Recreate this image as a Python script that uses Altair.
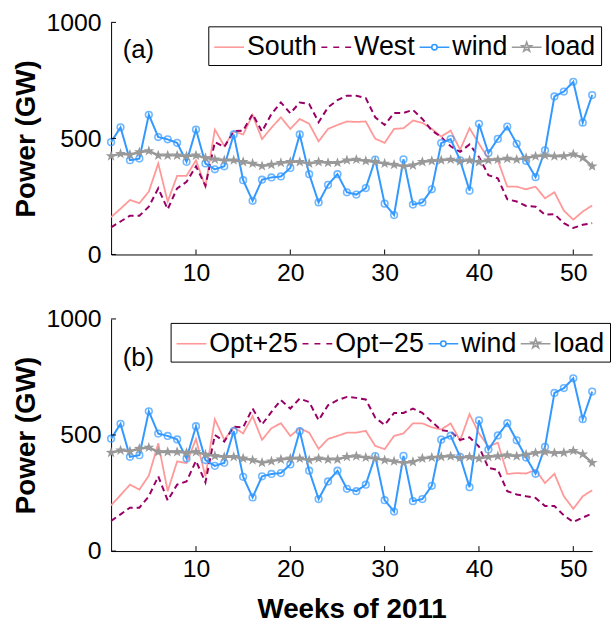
import altair as alt
import pandas as pd

weeks = list(range(1, 53))

wind = [484, 548, 406, 413, 602, 506, 496, 481, 399, 538, 392, 367, 380, 517, 320, 231, 322,
        332, 336, 373, 517, 346, 224, 300, 346, 268, 258, 286, 409, 219, 170, 410, 215, 224,
        281, 480, 497, 406, 275, 563, 437, 498, 551, 477, 403, 333, 449, 681, 702, 744, 568, 687]
load = [424, 434, 430, 441, 446, 427, 427, 427, 424, 427, 416, 410, 406, 406, 399, 392, 381,
        387, 395, 399, 399, 392, 399, 395, 395, 406, 409, 403, 399, 392, 387, 380, 384, 399,
        403, 406, 409, 402, 406, 399, 406, 409, 413, 409, 416, 423, 427, 423, 424, 432, 417, 380]
south = [161, 197, 235, 221, 271, 392, 228, 339, 339, 406, 292, 538, 467, 531, 517, 601, 497,
         546, 591, 541, 584, 563, 487, 541, 558, 573, 571, 573, 499, 481, 541, 544, 577, 567,
         541, 508, 534, 451, 544, 477, 413, 406, 292, 292, 281, 292, 242, 268, 189, 150, 185, 211]
west = [117, 142, 167, 167, 206, 285, 195, 285, 313, 380, 296, 484, 463, 531, 534, 605, 530,
        605, 655, 608, 655, 648, 570, 634, 665, 684, 684, 674, 591, 558, 610, 610, 623, 584,
        534, 506, 466, 442, 474, 420, 342, 328, 238, 228, 209, 206, 171, 174, 135, 114, 128, 135]
opt_plus = [197, 241, 286, 265, 325, 464, 258, 386, 379, 483, 322, 568, 479, 533, 507, 581, 479,
            529, 551, 496, 529, 510, 440, 483, 496, 510, 510, 518, 453, 439, 496, 507, 550, 550,
            533, 524, 550, 476, 590, 507, 450, 467, 332, 336, 334, 350, 293, 333, 236, 182, 236, 262]
opt_minus = [130, 158, 187, 187, 236, 322, 218, 286, 300, 389, 296, 500, 472, 536, 533, 614, 545,
             600, 650, 614, 657, 642, 564, 628, 650, 664, 660, 653, 575, 543, 595, 595, 614, 595,
             557, 521, 515, 479, 490, 450, 358, 350, 258, 244, 236, 229, 194, 194, 154, 125, 144, 162]

names_a = ["South", "West", "wind", "load"]
names_b = ["Opt+25", "Opt\u221225", "wind", "load"]
x_ticks = [10, 20, 30, 40, 50]
y_ticks = [0, 500, 1000]

colors = ["#ff9999", "#990066", "#3399ff", "#999999"]
line_widths = [1.8, 2.0, 2.0, 2.5]
line_dashes = [[1, 0], [6, 4], [1, 0], [1, 0]]

STAR = ("M0,-1L0.235,-0.324L0.951,-0.309L0.38,0.124L0.588,0.809L0,0.4L-0.588,0.809"
        "L-0.38,0.124L-0.951,-0.309L-0.235,-0.324Z")
LEG_PATHS = [
    "M-1,0L1,0",
    "M-1,0L-0.6,0M-0.2,0L0.2,0M0.6,0L1,0",
    "M-1,0L-0.18,0M0.18,0L1,0M0.18,0A0.18,0.18,0,1,1,-0.18,0A0.18,0.18,0,1,1,0.18,0",
    "M-1,0L1,0M0,-0.33L0.078,-0.107L0.314,-0.102L0.125,0.041L0.194,0.267L0,0.132"
    "L-0.194,0.267L-0.125,0.041L-0.314,-0.102L-0.078,-0.107Z",
]
LEG_FILLS = ["transparent", "transparent", "white", "#999999"]

FONT = "Liberation Sans"
W, H = 485, 234


def panel(s1, s2, names, tag, tag_y, show_xtitle, leg_x, leg_y):
    series_vals = [s1, s2, wind, load]
    df = pd.DataFrame({
        "week": weeks * 4,
        "power": [v for s in series_vals for v in s],
        "series": [n for n in names for _ in weeks],
    })
    x = alt.X("week:Q",
              scale=alt.Scale(domain=[1, 52], nice=False, zero=False),
              axis=alt.Axis(values=x_ticks, title="Weeks of 2011" if show_xtitle else None,
                            labelPadding=6, titlePadding=14, format="d"))
    y = alt.Y("power:Q",
              scale=alt.Scale(domain=[0, 1000], nice=False),
              axis=alt.Axis(values=y_ticks, title="Power (GW)", labelPadding=10,
                            titlePadding=6, format="d"))
    base = alt.Chart(df)
    layers = []
    for i, n in enumerate(names):
        layers.append(
            base.transform_filter(alt.datum.series == n)
            .mark_line(color=colors[i], strokeWidth=line_widths[i], strokeDash=line_dashes[i])
            .encode(x=x, y=y)
        )
    layers.append(
        base.transform_filter(alt.datum.series == names[2])
        .mark_point(shape="circle", filled=False, size=45, strokeWidth=1.6, color=colors[2])
        .encode(x=x, y=y)
    )
    layers.append(
        base.transform_filter(alt.datum.series == names[3])
        .mark_point(shape=STAR, filled=True, size=130, opacity=1, color=colors[3])
        .encode(x=x, y=y)
    )
    leg = alt.Legend(title=None, orient="none", legendX=leg_x, legendY=leg_y,
                     direction="horizontal", columns=4, symbolSize=900,
                     symbolStrokeWidth=1.6, labelFont=FONT, labelFontSize=27,
                     labelColor="black", labelOffset=2, columnPadding=0, padding=5,
                     strokeColor="black", fillColor="white", labelLimit=300)
    layers.append(
        base.mark_point(filled=False, opacity=0)
        .encode(
            x=x, y=y,
            shape=alt.Shape("series:N", scale=alt.Scale(domain=names, range=LEG_PATHS), legend=leg),
            stroke=alt.Stroke("series:N", scale=alt.Scale(domain=names, range=colors), legend=leg),
            fill=alt.Fill("series:N", scale=alt.Scale(domain=names, range=LEG_FILLS), legend=leg),
        )
    )
    # inward tick marks
    xt = pd.DataFrame({"week": x_ticks})
    yt = pd.DataFrame({"power": y_ticks})
    layers.append(
        alt.Chart(xt).mark_rule(color="black", strokeWidth=1)
        .encode(x=x, y=alt.value(H), y2=alt.value(H - 5))
    )
    layers.append(
        alt.Chart(yt).mark_rule(color="black", strokeWidth=1)
        .encode(y=y, x=alt.value(0), x2=alt.value(5))
    )
    tagdf = pd.DataFrame({"week": [3.9], "power": [tag_y], "label": [tag]})
    layers.append(
        alt.Chart(tagdf).mark_text(font=FONT, fontSize=26, color="black")
        .encode(x=x, y=y, text="label:N")
    )
    return alt.layer(*layers).properties(width=W, height=H)


top = panel(south, west, names_a, "(a)", 880, False, 98, 4)
bottom = panel(opt_plus, opt_minus, names_b, "(b)", 833, True, 60, 4)

chart = (
    alt.vconcat(top, bottom, spacing=22)
    .resolve_scale(shape="independent", stroke="independent", fill="independent")
    .resolve_legend(shape="independent", stroke="independent", fill="independent")
    .properties(padding={"left": 12, "top": 8, "right": 0, "bottom": 0})
    .configure_view(strokeWidth=0)
    .configure_axis(labelFont=FONT, labelFontSize=25, labelColor="black",
                    titleFont=FONT, titleFontSize=28, titleFontWeight="bold", titleColor="black",
                    domainColor="black", domainWidth=1, ticks=False, grid=False)
)

chart.save("out.html", embed_options={"renderer": "svg", "actions": False})
